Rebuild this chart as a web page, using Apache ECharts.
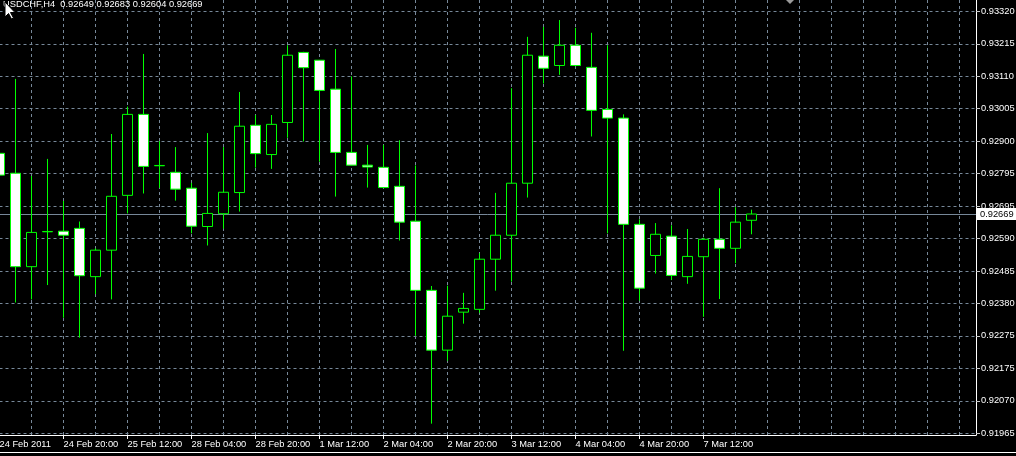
<!DOCTYPE html>
<html>
<head>
<meta charset="utf-8">
<script src="https://cdn.jsdelivr.net/npm/echarts@6/dist/echarts.min.js"></script>
<style>
html,body{margin:0;padding:0;background:#000;}
#chart{width:1016px;height:456px;}
</style>
</head>
<body>
<div id="chart"></div>
<script>
// ---- data ----
const symbolTitle = 'USDCHF,H4  0.92649 0.92683 0.92604 0.92669';
const categories = [
  '2011.02.24 04:00','2011.02.24 08:00','2011.02.24 12:00','2011.02.24 16:00','2011.02.24 20:00',
  '2011.02.25 00:00','2011.02.25 04:00','2011.02.25 08:00','2011.02.25 12:00','2011.02.25 16:00','2011.02.25 20:00',
  '2011.02.28 00:00','2011.02.28 04:00','2011.02.28 08:00','2011.02.28 12:00','2011.02.28 16:00','2011.02.28 20:00',
  '2011.03.01 00:00','2011.03.01 04:00','2011.03.01 08:00','2011.03.01 12:00','2011.03.01 16:00','2011.03.01 20:00',
  '2011.03.02 00:00','2011.03.02 04:00','2011.03.02 08:00','2011.03.02 12:00','2011.03.02 16:00','2011.03.02 20:00',
  '2011.03.03 00:00','2011.03.03 04:00','2011.03.03 08:00','2011.03.03 12:00','2011.03.03 16:00','2011.03.03 20:00',
  '2011.03.04 00:00','2011.03.04 04:00','2011.03.04 08:00','2011.03.04 12:00','2011.03.04 16:00','2011.03.04 20:00',
  '2011.03.07 00:00','2011.03.07 04:00','2011.03.07 08:00','2011.03.07 12:00','2011.03.07 16:00','2011.03.07 20:00',
  '2011.03.08 00:00'
];
const opens = [
  0.92864,0.92800,0.92500,0.92612,0.92614,0.92623,0.92468,0.92553,0.92729,0.92989,
  0.92824,0.92803,0.92752,0.92629,0.92670,0.92738,0.92954,0.92860,0.92963,0.93188,
  0.93163,0.93070,0.92867,0.92826,0.92819,0.92758,0.92646,0.92424,0.92232,0.92354,
  0.92363,0.92524,0.92601,0.92768,0.93176,0.93146,0.93211,0.93140,0.93005,0.92977,
  0.92636,0.92536,0.92598,0.92468,0.92532,0.92588,0.92559,0.92649
];
const highs = [
  0.92864,0.93103,0.92791,0.92846,0.92711,0.92645,0.92559,0.92926,0.93014,0.93183,
  0.92903,0.92884,0.92769,0.92929,0.92884,0.93061,0.92987,0.92987,0.93211,0.93190,
  0.93163,0.93199,0.93111,0.92891,0.92891,0.92906,0.92825,0.92438,0.92439,0.92416,
  0.92543,0.92737,0.93073,0.93238,0.93270,0.93292,0.93267,0.93251,0.93211,0.92989,
  0.92652,0.92640,0.92633,0.92621,0.92593,0.92752,0.92691,0.92683
];
const lows = [
  0.92794,0.92385,0.92395,0.92441,0.92336,0.92272,0.92412,0.92395,0.92671,0.92735,
  0.92753,0.92712,0.92607,0.92568,0.92622,0.92677,0.92818,0.92814,0.92914,0.92902,
  0.92837,0.92725,0.92825,0.92754,0.92752,0.92584,0.92278,0.91996,0.92198,0.92317,
  0.92352,0.92423,0.92452,0.92722,0.93088,0.93116,0.93143,0.92918,0.92607,0.92230,
  0.92391,0.92478,0.92457,0.92445,0.92339,0.92396,0.92511,0.92604
];
const closes = [
  0.92794,0.92500,0.92610,0.92613,0.92601,0.92471,0.92553,0.92726,0.92989,0.92822,
  0.92825,0.92749,0.92630,0.92671,0.92739,0.92951,0.92863,0.92957,0.93179,0.93139,
  0.93066,0.92867,0.92826,0.92820,0.92754,0.92643,0.92424,0.92232,0.92341,0.92366,
  0.92524,0.92601,0.92768,0.93179,0.93137,0.93211,0.93146,0.93002,0.92977,0.92636,
  0.92431,0.92604,0.92472,0.92533,0.92588,0.92559,0.92643,0.92669
];
const yTickLabels = ['0.91965','0.92070','0.92175','0.92275','0.92380','0.92485','0.92590',
  '0.92695','0.92795','0.92900','0.93005','0.93110','0.93215','0.93320'];
const xTickLabels = ['24 Feb 2011','24 Feb 20:00','25 Feb 12:00','28 Feb 04:00','28 Feb 20:00',
  '1 Mar 12:00','2 Mar 04:00','2 Mar 20:00','3 Mar 12:00','4 Mar 04:00','4 Mar 20:00','7 Mar 12:00'];

// ---- derived ----
const CANDLE_PX = 16;
const PLOT_LEFT = -0.5, PLOT_RIGHT_EDGE = 976;
const xSpan = (PLOT_RIGHT_EDGE - PLOT_LEFT) / CANDLE_PX;
const yLo = parseFloat(yTickLabels[0]);
const yHi = parseFloat(yTickLabels[yTickLabels.length - 1]);
const yStep = (yHi - yLo) / (yTickLabels.length - 1);
const gridValues = yTickLabels.map((_, i) => yLo + i * yStep);
const yMin = yLo - yStep * 0.0525;
const yMax = yHi + yStep * 0.348;
const xTickIdx = xTickLabels.map((_, i) => i * 4);
const vGridIdx = [];
for (let i = 2; i < xSpan; i += 2) vGridIdx.push(i);
const lastClose = closes[closes.length - 1];

const candleData = categories.map((c, i) => [i, opens[i], closes[i], lows[i], highs[i]]);
const closeLine = categories.map((c, i) => [i, closes[i]]);

const FONT = "Tahoma, 'Liberation Sans', Arial, sans-serif";
const FS = 9.3;
const GRID_COLOR = '#778899';

const chart = echarts.init(document.getElementById('chart'), null, {renderer: 'canvas'});
chart.setOption({
  backgroundColor: '#000000',
  animation: false,
  title: {
    text: symbolTitle,
    left: 3, top: 0,
    padding: 0,
    textStyle: {color: '#ffffff', fontSize: FS, fontWeight: 'normal', fontFamily: FONT}
  },
  grid: {
    left: PLOT_LEFT, right: 1016 - PLOT_RIGHT_EDGE, top: 0, bottom: 21,
    containLabel: false, outerBoundsMode: 'none'
  },
  xAxis: {
    type: 'value',
    min: 0, max: xSpan,
    axisLine: {show: true, lineStyle: {color: '#ffffff', width: 1}},
    axisTick: {show: true, customValues: xTickIdx, length: 4, lineStyle: {color: '#ffffff'}},
    axisLabel: {
      show: true, customValues: xTickIdx, align: 'left', margin: 5,
      color: '#ffffff', fontSize: FS, fontFamily: FONT,
      formatter: v => xTickLabels[Math.round(v / 4)] || ''
    },
    splitLine: {show: false}
  },
  yAxis: {
    type: 'value',
    position: 'right',
    min: yMin, max: yMax,
    axisLine: {show: true, onZero: false, lineStyle: {color: '#ffffff', width: 1}},
    axisTick: {show: true, customValues: gridValues, length: 4, lineStyle: {color: '#c8c8c8'}},
    axisLabel: {
      show: true, customValues: gridValues, margin: 5,
      color: '#ffffff', fontSize: FS, fontFamily: FONT,
      formatter: v => {
        const i = Math.round((v - yLo) / yStep);
        return yTickLabels[i] || '';
      }
    },
    splitLine: {show: false}
  },
  series: [
    {
      // invisible helper series carrying the chart grid and the bid line
      type: 'line',
      data: closeLine,
      z: 1,
      silent: true,
      symbol: 'none',
      lineStyle: {opacity: 0},
      emphasis: {disabled: true},
      markLine: {
        silent: true,
        z: 1,
        precision: 8,
        symbol: ['none', 'none'],
        animation: false,
        label: {show: false},
        lineStyle: {color: GRID_COLOR, type: [3, 3], width: 1},
        emphasis: {disabled: true},
        data: [
          ...gridValues.map(v => ({yAxis: v})),
          ...vGridIdx.map(v => ({xAxis: v})),
          {
            yAxis: lastClose,
            lineStyle: {color: GRID_COLOR, type: 'solid', width: 1},
            label: {
              show: true, position: 'end', distance: 1,
              formatter: lastClose.toFixed(5),
              color: '#000000', backgroundColor: '#ffffff',
              fontSize: FS, fontFamily: FONT,
              padding: [2, 6, 1, 3]
            }
          }
        ]
      }
    },
    {
      type: 'candlestick',
      data: candleData,
      encode: {x: 0, y: [1, 2, 3, 4]},
      barWidth: 10,
      z: 3,
      clip: true,
      itemStyle: {
        color: '#000000',
        color0: '#ffffff',
        borderColor: '#00ff00',
        borderColor0: '#00ff00',
        borderWidth: 1
      },
      emphasis: {disabled: true}
    }
  ],
  graphic: [
    // bottom window edge
    {type: 'line', silent: true, shape: {x1: 0, y1: 452.5, x2: 1016, y2: 452.5},
     style: {stroke: '#ffffff', lineWidth: 1}},
    // chart shift marker
    {type: 'polygon', silent: true, shape: {points: [[786, 0], [794, 0], [790, 4]]},
     style: {fill: '#9a9a9a'}},
    // mouse cursor
    {type: 'polygon', silent: true, z: 100,
     shape: {points: [[5, 2], [5, 17], [8.5, 13.5], [11.5, 19], [13.5, 18], [10.5, 12.5], [15, 12.5]]},
     style: {fill: '#ffffff', stroke: '#000000', lineWidth: 1}}
  ]
});
</script>
</body>
</html>
